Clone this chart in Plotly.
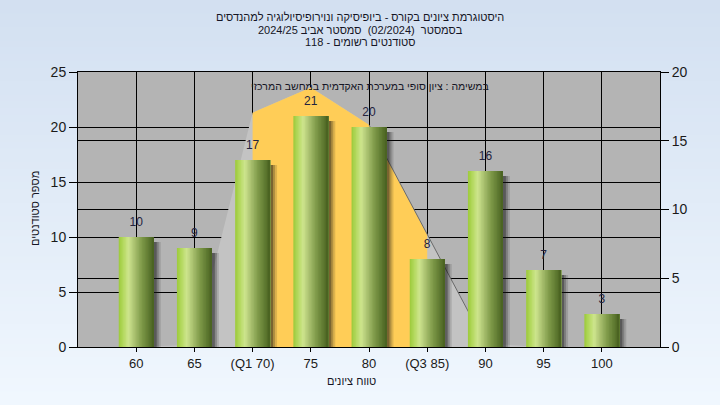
import plotly.graph_objects as go

# ---------------- data ----------------
categories = ["60", "65", "(Q1 70)", "75", "80", "(Q3 85)", "90", "95", "100"]
counts = [10, 9, 17, 21, 20, 8, 16, 7, 3]
curve = [0.0, 0.2, 21.3, 23.6, 20.2, 10.2, 0.3, 0.0, 0.0]
q1_index, q3_index = 2, 5
left_ticks = [0, 5, 10, 15, 20, 25]
right_ticks = [0, 5, 10, 15, 20]
title_lines = [
    "היסטוגרמת ציונים בקורס - ביופיסיקה ונוירופיסיולוגיה למהנדסים",
    "בסמסטר  (02/2024)  סמסטר אביב 2024/25",
    "סטודנטים רשומים - 118",
]
note_text = "במשימה : ציון סופי במערכת האקדמית במחשב המרכזי"
x_title = "טווח ציונים"
y_title = "מספר סטודנטים"

xs = list(range(1, len(categories) + 1))

FONT = "Liberation Sans, Arial, DejaVu Sans, sans-serif"
W, H = 720, 405
L, R, T, B = 78, 60, 72, 58
PW, PH = W - L - R, H - T - B
px_x = 10.0 / PW      # data units per pixel (x)
px_y = 25.0 / PH      # data units per pixel (left y)


def px2paper_x(p):
    return (p - L) / PW


def px2paper_y(p):
    return (H - B - p) / PH


fig = go.Figure()

# ---- normal-like curve fills (main y axis, drawn beneath the bars' overlay) ----
fig.add_trace(go.Scatter(x=xs, y=curve, mode="lines", fill="tozeroy",
                         fillcolor="#C3C3C3", line=dict(width=0, color="rgba(0,0,0,0)"),
                         hoverinfo="skip", showlegend=False))
fig.add_trace(go.Scatter(x=xs[q1_index:q3_index + 1], y=curve[q1_index:q3_index + 1],
                         mode="lines", fill="tozeroy", fillcolor="#FFCD57",
                         line=dict(width=0, color="rgba(0,0,0,0)"),
                         hoverinfo="skip", showlegend=False))
fig.add_trace(go.Scatter(x=xs[4:7], y=curve[4:7], mode="lines",
                         line=dict(width=1, color="#6A6A6A"),
                         hoverinfo="skip", showlegend=False))

# dummy trace on right axis
fig.add_trace(go.Scatter(x=[xs[0]], y=[0], yaxis="y2", mode="markers",
                         marker=dict(opacity=0), hoverinfo="skip", showlegend=False))

# ---- bar shadows ----
bw = 0.6
for dx, a in [(7, 0.14), (5, 0.22), (3, 0.35)]:
    fig.add_trace(go.Bar(x=xs, y=[c - 5 * px_y + 4 * px_y for c in counts],
                         base=-4 * px_y, offset=-bw / 2 + dx * px_x, width=bw, yaxis="y3",
                         marker=dict(color=f"rgba(20,20,20,{a})", line=dict(width=0)),
                         cliponaxis=False, hoverinfo="skip", showlegend=False))

# ---- gradient bars (vertical strips, each reaching the bar's right edge) ----
stops = [(0.0, (156, 202, 58)), (0.12, (178, 216, 92)), (0.28, (206, 229, 142)),
         (0.45, (170, 193, 112)), (0.65, (128, 155, 74)), (0.85, (96, 123, 50)),
         (1.0, (72, 96, 32))]


def interp(t):
    for (t0, c0), (t1, c1) in zip(stops[:-1], stops[1:]):
        if t0 <= t <= t1:
            f = (t - t0) / (t1 - t0)
            return "rgb(%d,%d,%d)" % tuple(round(c0[k] + (c1[k] - c0[k]) * f) for k in range(3))
    return "rgb(%d,%d,%d)" % stops[-1][1]


N = 24
sw = bw / N
for i in range(N):
    t = (i + 0.5) / N
    fig.add_trace(go.Bar(x=xs, y=counts, offset=-bw / 2 + i * sw,
                         width=bw - i * sw, yaxis="y3",
                         marker=dict(color=interp(t), line=dict(width=0)),
                         hoverinfo="skip", showlegend=False))

# ---- value labels ----
fig.add_trace(go.Scatter(x=xs, y=counts, mode="markers+text", text=[str(c) for c in counts],
                         textposition="top center", yaxis="y3",
                         marker=dict(size=12, opacity=0),
                         textfont=dict(family=FONT, size=12, color="#23233F"),
                         cliponaxis=False, hoverinfo="skip", showlegend=False))

# ---- background gradient ----
shapes = []
nb = 60
top_c, bot_c = (211, 224, 241), (240, 247, 254)
for i in range(nb):
    f = i / (nb - 1)
    col = "rgb(%d,%d,%d)" % tuple(round(top_c[k] + (bot_c[k] - top_c[k]) * f) for k in range(3))
    y0p = i * H / nb
    y1p = (i + 1) * H / nb + 1
    shapes.append(dict(type="rect", xref="paper", yref="paper",
                       x0=px2paper_x(-2), x1=px2paper_x(W + 2),
                       y0=px2paper_y(y1p), y1=px2paper_y(y0p),
                       fillcolor=col, line=dict(width=0), layer="below"))
shapes.append(dict(type="rect", xref="x domain", yref="y domain", x0=0, x1=1, y0=0, y1=1,
                   fillcolor="#B4B4B4", line=dict(width=0), layer="below"))

annotations = []
for line, yp in zip(title_lines, [17, 29.5, 41.5]):
    annotations.append(dict(text=line, xref="paper", yref="paper",
                            x=px2paper_x(360), y=px2paper_y(yp), xanchor="center",
                            yanchor="middle", showarrow=False,
                            font=dict(family=FONT, size=11, color="#151525")))
annotations.append(dict(text=note_text, xref="paper", yref="paper",
                        x=px2paper_x(370), y=px2paper_y(86), xanchor="center",
                        yanchor="middle", showarrow=False,
                        font=dict(family=FONT, size=10.5, color="#151525")))
annotations.append(dict(text=x_title, xref="paper", yref="paper",
                        x=px2paper_x(351), y=px2paper_y(381), xanchor="center",
                        yanchor="middle", showarrow=False,
                        font=dict(family=FONT, size=11, color="#151525")))
annotations.append(dict(text=y_title, xref="paper", yref="paper",
                        x=px2paper_x(35), y=px2paper_y(209), xanchor="center",
                        yanchor="middle", showarrow=False, textangle=-90,
                        font=dict(family=FONT, size=11, color="#151525")))

fig.update_layout(
    width=W, height=H,
    margin=dict(l=L, r=R, t=T, b=B, pad=0),
    barmode="overlay",
    paper_bgcolor="#E4ECF8",
    plot_bgcolor="#B4B4B4",
    font=dict(family=FONT, size=12, color="#151525"),
    showlegend=False,
    shapes=shapes,
    annotations=annotations,
    xaxis=dict(range=[0, 10], tickvals=xs, ticktext=categories,
               showgrid=True, gridcolor="black", gridwidth=1,
               ticks="outside", ticklen=4, tickcolor="black",
               showline=True, linecolor="black", linewidth=1, mirror=True,
               zeroline=False, tickfont=dict(size=13, color="#1A1A1A"),
               fixedrange=True),
    yaxis=dict(range=[0, 25], tickvals=left_ticks,
               showgrid=True, gridcolor="black", gridwidth=1,
               ticks="outside", ticklen=8, tickcolor="black",
               showline=True, linecolor="black", linewidth=1,
               zeroline=False, tickfont=dict(size=14, color="#1A1A1A"),
               fixedrange=True),
    yaxis2=dict(range=[0, 20], tickvals=right_ticks, overlaying="y", side="right",
                showgrid=True, gridcolor="black", gridwidth=1,
                ticks="outside", ticklen=8, tickcolor="black",
                showline=True, linecolor="black", linewidth=1,
                zeroline=False, tickfont=dict(size=14, color="#1A1A1A"),
                fixedrange=True),
    yaxis3=dict(range=[0, 25], overlaying="y", visible=False, fixedrange=True),
)

fig.write_html("out.html", config={"displayModeBar": False},
               post_script="document.body.style.margin='0';document.body.style.padding='0';")
